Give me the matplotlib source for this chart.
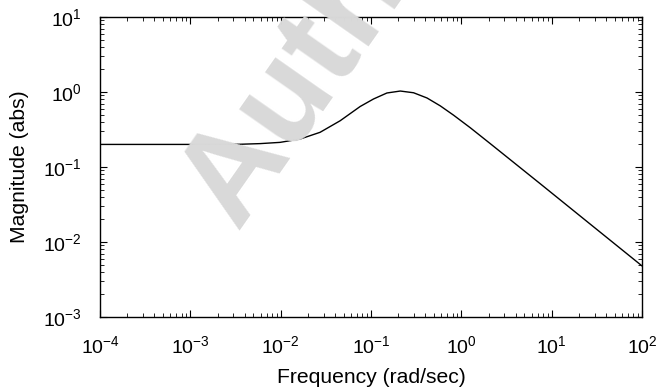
import matplotlib
matplotlib.use("Agg")
import matplotlib.pyplot as plt
from matplotlib.ticker import LogLocator, NullFormatter

plt.rcParams['font.family'] = ['Liberation Sans', 'DejaVu Sans']
plt.rcParams['mathtext.default'] = 'regular'
plt.rcParams['mathtext.fontset'] = 'custom'
plt.rcParams['mathtext.rm'] = 'Liberation Sans'

# Data
freq = [1e-4, 1e-3, 3.55e-3, 5.91e-3, 9.85e-3, 0.0164, 0.0273, 0.0456, 0.0759,
        0.1066, 0.150, 0.211, 0.296, 0.417, 0.585, 0.822, 1.259, 2.1, 7.5, 26.9, 100]
mag = [0.2, 0.2, 0.201, 0.205, 0.213, 0.236, 0.290, 0.414, 0.641,
       0.807, 0.97, 1.03, 0.977, 0.832, 0.653, 0.490, 0.333, 0.204, 0.0596, 0.0172, 0.0048]

xlabel = "Frequency (rad/sec)"
ylabel = "Magnitude (abs)"
watermark = "Author"

fs_tick = 14.0
fs_label = 15.2
fig = plt.figure(figsize=(6.58, 3.9), dpi=100)
ax = fig.add_axes([100/658, 1 - 317/390, 542/658, 300/390])
ax.set_facecolor('none')

fig.text(237/658, 1 - 230/390, watermark, rotation=55, rotation_mode='anchor',
         ha='left', va='baseline', fontsize=95, fontweight='bold',
         color='#d9d9d9', zorder=0)

ax.plot(freq, mag, color='black', lw=1.0, zorder=3)
ax.set_xscale('log')
ax.set_yscale('log')
ax.set_xlim(1e-4, 1e2)
ax.set_ylim(1e-3, 1e1)

ax.xaxis.set_major_locator(LogLocator(base=10, numticks=20))
ax.yaxis.set_major_locator(LogLocator(base=10, numticks=20))
ax.xaxis.set_minor_locator(LogLocator(base=10, subs=range(2, 10), numticks=100))
ax.yaxis.set_minor_locator(LogLocator(base=10, subs=range(2, 10), numticks=100))
ax.xaxis.set_minor_formatter(NullFormatter())
ax.yaxis.set_minor_formatter(NullFormatter())

ax.tick_params(which='both', direction='in', top=True, right=True, labelsize=fs_tick,
               color='black')
ax.tick_params(which='major', length=5, width=0.8)
ax.tick_params(which='minor', length=3, width=0.6)
ax.tick_params(axis='x', which='major', pad=13)
ax.tick_params(axis='y', which='major', pad=13)
for s in ax.spines.values():
    s.set_linewidth(1.0)

ax.set_xlabel(xlabel, fontsize=fs_label, labelpad=8)
ax.set_ylabel(ylabel, fontsize=fs_label, labelpad=10)

fig.savefig("out.png", dpi=100)
